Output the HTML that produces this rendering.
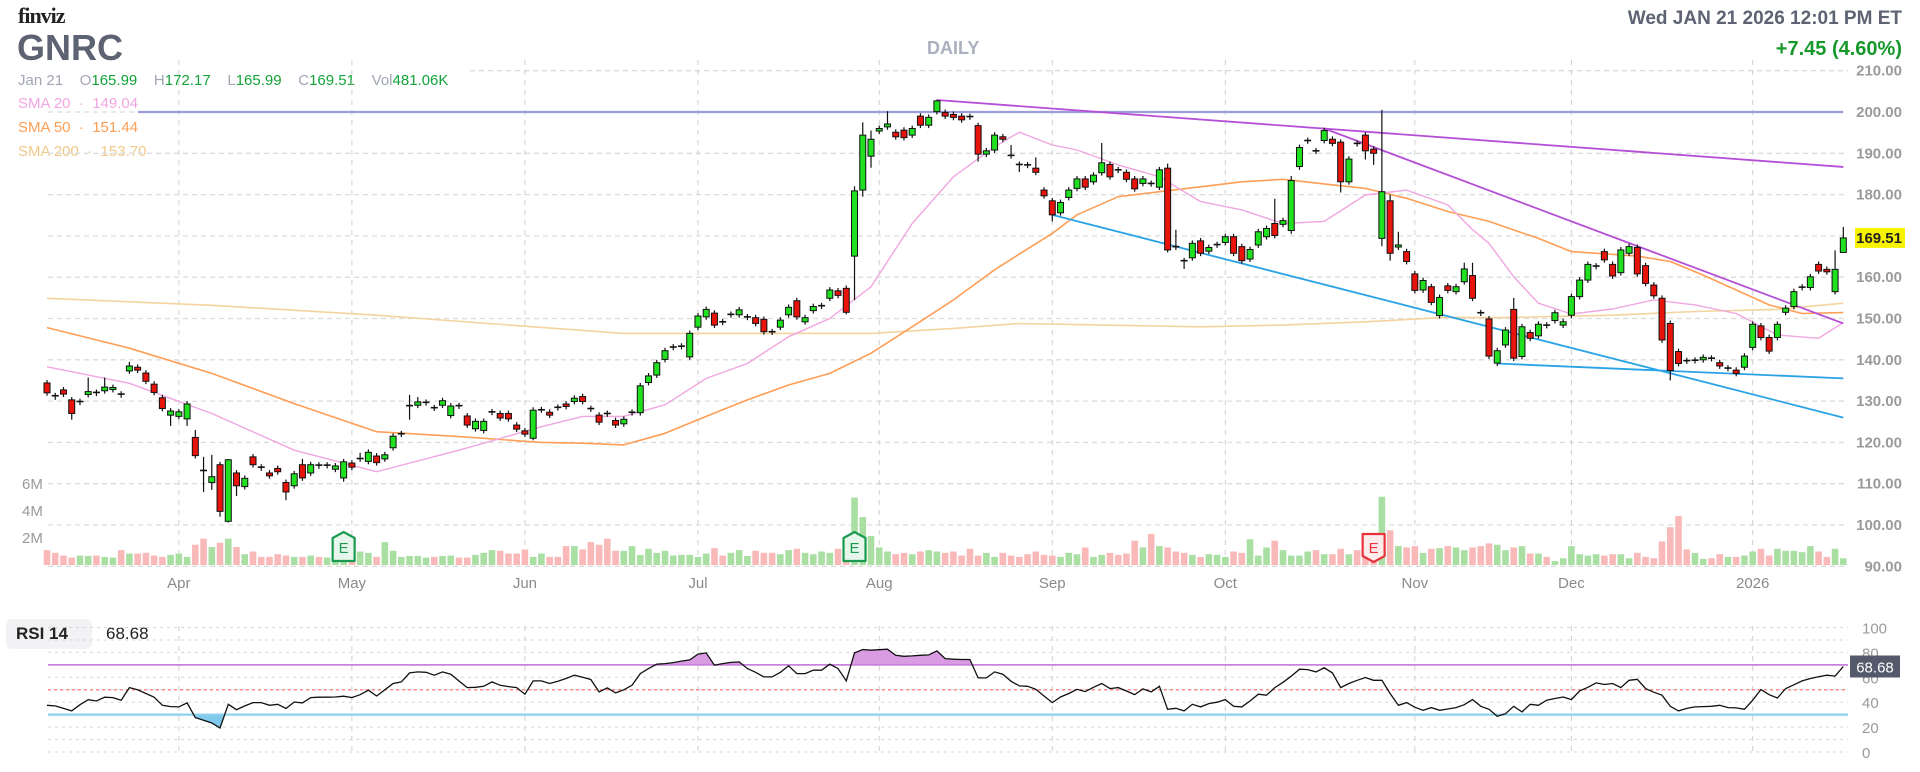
<!DOCTYPE html>
<html><head><meta charset="utf-8">
<style>
html,body{margin:0;padding:0;background:#fff;}
body{width:1920px;height:772px;overflow:hidden;position:relative;font-family:"Liberation Sans",sans-serif;}
.abs{position:absolute;white-space:nowrap;}
</style></head>
<body>
<div class="abs" style="left:18px;top:3px;font-size:22px;font-weight:bold;color:#222;letter-spacing:-1px;font-family:'Liberation Serif',serif;">finviz</div>
<div class="abs" style="left:17px;top:27px;font-size:36px;font-weight:bold;color:#5d6372;">GNRC</div>
<div class="abs" style="left:18px;top:72px;font-size:15px;color:#a0a6b4;">Jan 21 &nbsp;&nbsp;&nbsp;O<span style="color:#13a33a">165.99</span> &nbsp;&nbsp;&nbsp;H<span style="color:#13a33a">172.17</span> &nbsp;&nbsp;&nbsp;L<span style="color:#13a33a">165.99</span> &nbsp;&nbsp;&nbsp;C<span style="color:#13a33a">169.51</span> &nbsp;&nbsp;&nbsp;Vol<span style="color:#13a33a">481.06K</span></div>
<div class="abs" style="left:18px;top:95px;font-size:15px;color:#f2a6e2;">SMA 20 &nbsp;·&nbsp; 149.04</div>
<div class="abs" style="left:18px;top:119px;font-size:15px;color:#ff9e55;">SMA 50 &nbsp;·&nbsp; 151.44</div>
<div class="abs" style="left:18px;top:143px;font-size:15px;color:#f0c98a;">SMA 200 &nbsp;·&nbsp; 153.70</div>
<div class="abs" style="left:927px;top:38px;font-size:18px;font-weight:bold;color:#aab0be;">DAILY</div>
<div class="abs" style="right:18px;top:8px;font-size:19px;font-weight:bold;color:#5d6372;">Wed JAN 21 2026 12:01 PM ET</div>
<div class="abs" style="right:18px;top:38px;font-size:20px;font-weight:bold;color:#16992a;">+7.45 (4.60%)</div>
<div class="abs" style="left:6px;top:619px;width:86px;height:30px;background:#f2f2f4;border-radius:6px;"></div>
<div class="abs" style="left:16px;top:624px;font-size:17px;font-weight:bold;color:#222;">RSI 14</div>
<div class="abs" style="left:106px;top:624px;font-size:17px;color:#222;">68.68</div>
<svg id="chart" width="1920" height="772" style="position:absolute;left:0;top:0;" xmlns="http://www.w3.org/2000/svg"></svg>
<script>
const opens=[134.4,131.3,132.7,130.3,129.7,131.6,132.1,132.5,132.8,131.7,137.3,138.2,136.8,134.1,130.8,126.6,126.3,125.7,121.2,113.2,110.3,114.6,100.9,112.6,109.3,116.5,114.0,112.6,113.7,110.3,109.5,114.6,112.6,114.5,114.4,113.5,111.4,115.0,116.0,115.4,116.7,116.0,118.7,122.0,128.8,129.0,129.6,128.4,129.0,126.5,128.9,126.4,123.3,122.9,127.3,127.0,127.0,124.2,122.8,121.0,127.9,127.3,128.5,129.3,129.9,131.1,128.2,126.6,127.0,125.3,124.5,127.2,127.2,134.5,136.3,140.1,143.0,143.2,140.7,147.9,150.4,151.3,149.2,150.9,150.9,150.3,150.2,149.8,146.8,147.9,150.9,154.3,149.2,151.9,153.0,154.9,156.7,157.3,165.1,181.1,189.3,195.4,196.4,195.1,195.6,194.4,199.0,196.8,200.1,199.9,199.4,199.0,198.9,196.7,189.8,190.8,194.0,189.5,187.3,187.2,186.4,181.1,178.5,175.6,179.3,181.5,183.8,183.1,185.3,187.3,186.0,185.4,183.8,182.7,182.7,181.8,186.4,167.4,164.0,164.7,168.8,166.3,167.8,168.4,169.8,167.4,164.4,167.8,169.8,173.0,172.8,171.3,186.8,193.0,190.6,193.1,193.4,192.7,183.1,192.4,194.4,191.0,169.4,178.5,167.3,166.2,160.8,156.9,157.7,150.7,157.9,156.5,158.9,160.4,151.4,149.9,139.2,143.6,152.2,140.8,146.6,145.8,148.4,149.5,148.4,150.8,155.3,159.3,162.6,166.2,163.1,161.1,165.8,167.2,162.8,158.1,154.9,148.8,142.0,139.8,139.8,140.0,140.4,139.3,137.9,137.5,138.2,143.0,148.2,145.4,145.4,151.5,152.9,157.5,157.5,163.1,161.9,156.5,165.99];
const closes=[132.0,131.0,131.7,127.0,129.9,132.3,131.9,133.4,133.3,131.5,138.5,137.5,134.8,132.1,128.2,127.6,127.4,129.3,116.8,113.0,111.7,103.3,115.8,109.5,111.3,114.6,113.8,111.9,112.9,108.0,112.4,111.4,114.6,114.3,114.5,114.3,115.3,114.0,116.1,117.6,115.1,117.0,121.5,122.1,128.9,129.8,129.7,128.3,130.1,128.8,128.8,124.2,125.1,125.1,127.4,125.9,125.7,123.2,122.0,127.8,127.9,126.6,128.4,128.7,130.7,129.9,128.1,124.9,126.9,124.2,125.6,127.3,133.7,136.1,139.3,142.2,143.1,143.3,146.4,150.6,152.2,148.4,149.1,151.0,152.1,150.4,148.8,146.8,146.7,149.6,152.7,150.4,150.2,152.9,153.1,156.9,155.6,151.5,180.9,194.4,193.4,196.0,197.1,194.0,193.8,196.0,196.8,198.7,202.7,199.0,198.7,198.1,198.8,189.8,190.6,194.4,193.4,189.4,187.2,187.1,185.4,179.7,175.1,178.1,181.1,183.8,181.8,184.7,187.7,184.3,185.9,183.7,181.4,183.8,182.6,186.0,166.6,167.3,163.9,168.2,165.8,167.2,167.9,169.8,165.8,164.0,166.7,171.0,171.8,170.1,173.7,183.4,191.4,193.1,190.5,195.5,192.4,183.1,188.6,192.3,190.6,190.0,180.7,165.8,167.8,163.8,156.8,159.2,153.9,155.1,156.8,157.7,162.0,154.9,151.3,140.9,142.2,147.2,140.4,148.0,145.2,148.6,148.3,151.4,149.2,155.3,159.3,163.1,162.7,164.2,160.3,166.6,167.4,160.8,158.5,155.5,144.8,137.4,139.1,139.7,139.9,140.6,140.3,138.5,138.0,136.7,140.9,148.6,145.4,142.1,148.6,152.5,156.5,157.6,160.1,161.5,161.3,161.9,169.51];
const highOverrides={5:135.7,7:135.7,10:139.5,18:123,19:116.5,20:117,22:116,31:116,38:117.5,44:131.5,45:131,98:182,99:197.5,100:195.5,102:200.2,108:203,117:192,120:189,128:192.5,136:187.5,137:171.5,149:179,151:184.5,162:200.5,163:180,164:171,172:163.5,173:163.5,178:155,217:166.5,218:172.17};
const lowOverrides={3:125.5,15:124,17:124,19:108,20:108.5,21:102,22:100.6,23:107,29:106,36:110.5,44:125.5,59:120.5,97:151,98:154.5,99:179.5,100:186.5,113:188,118:185.5,122:173.5,136:166,138:162,151:170.5,152:186,157:180.5,160:188.5,161:187.2,162:167.5,163:164,197:135,206:137.5,218:165.99};
const volumes=[1.1,0.9,0.7,0.55,0.7,0.67,0.7,0.6,0.55,1.1,0.85,0.85,0.9,0.7,0.6,0.75,0.85,0.6,1.5,1.95,1.33,1.65,1.95,1.33,0.8,1.0,0.6,0.6,0.8,0.7,0.6,0.6,0.7,0.6,0.55,0.4,1.1,0.6,1.0,0.9,0.6,1.7,1.05,0.6,0.67,0.67,0.55,0.6,0.67,0.7,0.55,0.55,0.75,0.9,1.1,1.05,0.85,0.85,1.15,0.6,0.85,0.6,0.6,1.4,1.4,1.15,1.7,1.5,1.95,1.05,1.05,1.4,0.75,1.2,0.9,1.05,0.7,0.75,0.75,0.6,0.85,1.25,0.7,0.9,1.1,0.67,1.05,0.9,0.9,0.8,1.1,1.2,0.9,0.8,1.0,0.9,1.2,1.5,5.0,3.55,2.15,1.3,1.0,0.8,0.9,0.8,1.0,1.1,1.0,0.9,1.0,0.7,1.2,0.7,0.9,0.6,0.9,0.7,0.6,0.8,1.0,0.75,0.7,0.6,0.9,0.8,1.3,0.6,0.75,0.9,0.75,0.85,1.8,1.3,2.3,1.4,1.3,1.0,0.9,0.75,0.6,0.8,0.75,0.6,1.0,0.9,1.9,0.7,1.3,1.8,1.1,0.7,0.7,1.0,1.1,0.8,0.8,1.2,0.8,1.1,0.85,0.55,5.06,2.57,1.4,1.3,1.4,0.9,1.2,1.25,1.4,1.3,1.1,1.3,1.4,1.6,1.5,1.1,1.3,1.4,0.85,0.85,0.6,0.3,0.5,1.4,0.8,0.7,0.8,0.7,0.8,0.8,0.5,0.9,0.6,0.5,1.75,2.8,3.63,1.15,0.9,0.45,0.5,0.8,0.6,0.6,0.7,1.0,1.2,0.7,1.2,1.05,1.05,0.95,1.4,1.0,0.6,1.2,0.5];
const rsiValues=[37.5,37,35,33,38,42,41,44,43.7,41.6,51.7,50,47,44,37.5,36.5,36.2,39.4,27.6,25.5,23.3,19.3,38.3,34,37,39.7,39.7,37.5,38.3,34.9,40.2,39.4,43.7,44,44,44.2,44.8,43.7,46,49.6,45,50,55,56.3,63.5,64.3,64,61.7,64.3,62.5,57,51.7,52,52.8,56.3,53.6,52.5,51.7,46.4,57.1,57.1,55,56.8,59,61.7,60,58.2,48.3,51.5,47.5,50,53.6,63,67,70.5,71,71.8,73,74,78.6,79.6,69.7,71,72,72.4,67,64,60.3,60.3,64,69.2,63,63,65.7,65.7,70.5,67,57.1,79.6,82.3,81.8,82.2,82.6,77.7,76.9,77.2,77.7,78,81.2,75,74.5,74.3,74.3,59.5,59.5,64.3,62.5,56.8,53.1,52.8,50.4,45,39.7,44.2,47,50.4,48.5,52,55,50.9,51.7,49,46.1,50.7,48.3,52.8,34.3,35.1,33,38.3,36.2,38.9,40,42.1,36.7,36.2,41,46.4,45.6,51.7,56,60.9,66.5,66.2,64.3,67.6,63.5,51.7,55,57.6,59.8,57.6,57.6,47,37.5,39.7,36,33.5,35.7,33.5,34.5,35.7,38,42.1,36.7,34.3,28.7,30.8,36.7,32.2,38.3,37.5,41.6,43,44.2,42.1,49.1,52,55.5,54.2,55,51.7,57.6,58.4,50.9,48,45.6,36.7,33,35,36.2,36.5,36.7,37.5,35.7,35.4,34.3,41.6,50.1,46,43.4,50.9,54,57.1,59,60.5,61.7,61,68.68];
const sma20Idx=[0,10,20,30,40,50,60,65,70,75,80,85,90,95,100,105,110,115,118,122,125,130,135,140,145,150,155,160,165,170,173,175,178,181,185,190,195,200,205,210,215,218];
const sma20Val=[138.3,134.3,127.0,118.1,112.9,118.1,123.8,126.3,126.3,129.1,135.5,139.1,145.6,150.0,157.7,173.0,184.3,191.6,195.1,192.0,190.8,187.2,184.3,178.3,176.3,173.0,173.5,179.9,181.1,177.5,171.5,168.2,160.1,153.7,151.1,152.3,154.5,153.3,151.2,146.0,145.2,149.04];
const sma50Idx=[0,10,20,30,40,50,60,65,70,75,80,85,90,95,100,105,110,115,118,122,125,130,140,145,150,155,160,165,170,175,181,185,193,197,201,205,209,213,218];
const sma50Val=[147.8,142.8,136.7,129.4,122.6,121.4,120.0,119.8,119.4,122.2,126.3,130.3,133.9,136.7,141.6,148.0,154.5,161.8,165.6,170.6,175.1,179.5,181.9,183.1,183.7,182.6,181.5,179.1,175.9,173.5,169.4,166.2,165.1,163.8,160.5,156.9,153.3,151.2,151.44];
const sma200Idx=[0,20,40,59,70,100,110,118,140,150,160,170,176,190,200,210,218];
const sma200Val=[154.9,153.2,150.8,148.0,146.4,146.4,147.6,148.8,148.0,148.4,149.2,150.3,150.2,150.8,151.7,152.2,153.7];
const priceTicks=[90,100,110,120,130,140,150,160,170,180,190,200,210];
const monthIdx=[16,37,58,79,101,122,143,166,185,207];
const monthLabels=["Apr","May","Jun","Jul","Aug","Sep","Oct","Nov","Dec","2026"];
const volTicks=[2,4,6];
const rsiTicks=[0,20,40,60,80,100];
const earnings=[{i:36,c:"g"},{i:98,c:"g"},{i:161,c:"r"}];
const trendLines=[
 {a:[108,202.9],b:[218,186.7],color:"#b54fd8",name:"resistance-trendline-long"},
 {a:[155,196.0],b:[218,148.8],color:"#b54fd8",name:"resistance-trendline-short"},
 {a:[122,175.1],b:[218,126.0],color:"#29a3e6",name:"support-trendline-steep"},
 {a:[176,139.1],b:[218,135.5],color:"#29a3e6",name:"support-trendline-flat"}];

const NS="http://www.w3.org/2000/svg";
const svg=document.getElementById('chart');
const X0=47,STEP=8.24;
const xs=i=>X0+STEP*i;
const yp=p=>112+(200-p)*4.13;
const yv=v=>565-v*13.5;
const yr=r=>752-r*1.245;
const L=48,R=1848;
function mk(tag,attrs,parent){const e=document.createElementNS(NS,tag);for(const k in attrs)e.setAttribute(k,attrs[k]);(parent||svg).appendChild(e);return e;}
function txt(s,x,y,attrs){const t=mk('text',Object.assign({x:x,y:y,'font-family':'Liberation Sans, sans-serif'},attrs));t.textContent=s;return t;}

priceTicks.forEach(p=>{
 const g=mk('line',{x1:p===210?470:L,x2:R,y1:yp(p),y2:yp(p),stroke:'#dcdcdc','stroke-dasharray':'5,4','stroke-width':1.3});
 
 
 const t=txt(p.toFixed(2),1902,yp(p)+5,{'text-anchor':'end','font-size':15,fill:'#9a9a9a','font-weight':'bold'});
 
 
});
monthIdx.forEach((mi,k)=>{
 const x=xs(mi);
 const v=mk('line',{x1:x,x2:x,y1:60,y2:568,stroke:'#d0d0d0','stroke-dasharray':'5,5'});
 
 
 const v2=mk('line',{x1:x,x2:x,y1:626,y2:752,stroke:'#d0d0d0','stroke-dasharray':'5,5'});
 
 
 const t=txt(monthLabels[k],x,588,{'text-anchor':'middle','font-size':15,fill:'#8a8a8a'});
 
 
});
volTicks.forEach(v=>{
 const t=txt(v+'M',22,yv(v)+5,{'font-size':15,fill:'#9a9a9a'});
 
 
});
volumes.forEach((v,i)=>{
 const up=closes[i]>=opens[i];
 const b=mk('rect',{x:xs(i)-3.3,y:yv(v),width:6.6,height:565-yv(v),fill:up?'#a9dfa3':'#f9b9b9'});
 
 
});
const hl=mk('line',{x1:138,x2:1843,y1:yp(200),y2:yp(200),stroke:'#9c9edb','stroke-width':2.2});


function smaPath(idx,val,color,name,w){
 const pts=idx.map((ii,k)=>xs(ii).toFixed(1)+','+yp(val[k]).toFixed(1)).join(' ');
 const pl=mk('polyline',{points:pts,fill:'none',stroke:color,'stroke-width':w,'stroke-linejoin':'round'});
 
 
}
smaPath(sma200Idx,sma200Val,'#f3d49e','sma200-line',1.6);
smaPath(sma50Idx,sma50Val,'#ff9e55','sma50-line',1.6);
smaPath(sma20Idx,sma20Val,'#f0a6e0','sma20-line',1.4);
trendLines.forEach(t=>{
 const l=mk('line',{x1:xs(t.a[0]),y1:yp(t.a[1]),x2:xs(t.b[0]),y2:yp(t.b[1]),stroke:t.color,'stroke-width':1.8});
 
 
});
opens.forEach((o,i)=>{
 const c=closes[i];const up=c>=o;
 const hi=highOverrides[i]!==undefined?highOverrides[i]:Math.max(o,c)+0.7;
 const lo=lowOverrides[i]!==undefined?lowOverrides[i]:Math.min(o,c)-0.7;
 const x=xs(i);
 const w=mk('line',{x1:x,x2:x,y1:yp(hi),y2:yp(lo),stroke:'#111','stroke-width':1.2});
 
 
 const top=yp(Math.max(o,c)),bot=yp(Math.min(o,c));
 if(bot-top<1.5){
  const d=mk('line',{x1:x-3.5,x2:x+3.5,y1:top,y2:top,stroke:'#111','stroke-width':1.6});
  
  
 }else{
  const r=mk('rect',{x:x-3,y:top,width:6,height:bot-top,fill:up?'#1fe11f':'#e8140c',stroke:'#111','stroke-width':1});
  
  
 }
});
const lp=closes[closes.length-1];
const lr=mk('rect',{x:1855,y:yp(lp)-10,width:50,height:20,fill:'#f7f300'});


const lt=txt(lp.toFixed(2),1902,yp(lp)+5,{'text-anchor':'end','font-size':15,'font-weight':'bold',fill:'#222'});


earnings.forEach(e=>{
 const x=xs(e.i),col=e.c==='g'?'#1a9a50':'#e8323c',bg=e.c==='g'?'#e6f6ea':'#fdecec';
 const d=e.c==='g'?`M${x-11},${538} L${x},${532} L${x+11},${538} L${x+11},${561} L${x-11},${561} Z`:`M${x-11},${534} L${x+11},${534} L${x+11},${556} L${x},${562} L${x-11},${556} Z`;
 const p=mk('path',{d:d,fill:bg,stroke:col,'stroke-width':2.2,'stroke-linejoin':'round'});
 
 
 const t=txt('E',x,553,{'text-anchor':'middle','font-size':15,fill:col});
 
 
});
for(let v=0;v<=100;v+=10){
 const g=mk('line',{x1:L,x2:R,y1:yr(v),y2:yr(v),stroke:'#d6d6d6','stroke-dasharray':'3,4'});
 
 
}
rsiTicks.forEach(v=>{
 const t=txt(String(v),1862,yr(v)+6,{'font-size':15,fill:'#9a9a9a'});
 
 
});
function fillZone(th,above,color,name){
 let d='';
 for(let i=0;i<rsiValues.length-1;i++){
  const a=rsiValues[i],b=rsiValues[i+1];
  const ina=above?a>th:a<th,inb=above?b>th:b<th;
  if(!ina&&!inb)continue;
  let x1=xs(i),x2=xs(i+1),v1=a,v2=b;
  if(!ina){const t=(th-a)/(b-a);x1=xs(i)+t*STEP;v1=th;}
  if(!inb){const t=(th-a)/(b-a);x2=xs(i)+t*STEP;v2=th;}
  d+=`M${x1},${yr(th)} L${x1},${yr(v1)} L${x2},${yr(v2)} L${x2},${yr(th)} Z `;
 }
 const p=mk('path',{d:d,fill:color,stroke:'none'});
 
 
}
fillZone(70,true,'#d99be2','rsi-overbought-fill');
fillZone(30,false,'#7fc9ec','rsi-oversold-fill');
const l50=mk('line',{x1:L,x2:R,y1:yr(50),y2:yr(50),stroke:'#ff8a8a','stroke-dasharray':'3,3','stroke-width':1.4});


const l70=mk('line',{x1:L,x2:R,y1:yr(70),y2:yr(70),stroke:'#c883d8','stroke-width':1.8});


const l30=mk('line',{x1:L,x2:R,y1:yr(30),y2:yr(30),stroke:'#8fd0ec','stroke-width':2.2});


const rl=mk('polyline',{points:rsiValues.map((v,i)=>xs(i).toFixed(1)+','+yr(v).toFixed(1)).join(' '),fill:'none',stroke:'#111','stroke-width':1.3});


const rv=rsiValues[rsiValues.length-1];
const rb=mk('rect',{x:1850,y:yr(rv)-11,width:50,height:22,fill:'#545a6c'});


const rt=txt(rv.toFixed(2),1875,yr(rv)+6,{'text-anchor':'middle','font-size':15,fill:'#fff'});


</script>
</body></html>
